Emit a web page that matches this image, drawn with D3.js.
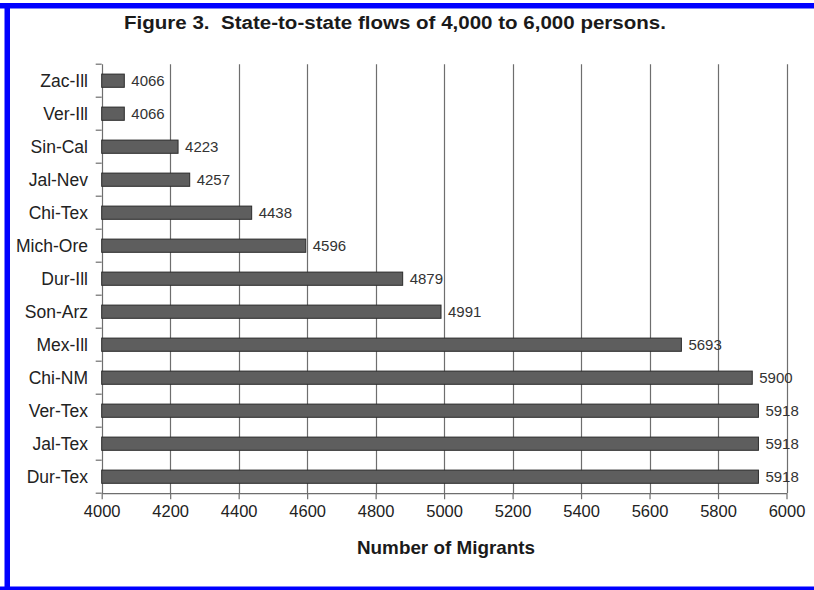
<!DOCTYPE html>
<html>
<head>
<meta charset="utf-8">
<script src="https://cdn.jsdelivr.net/npm/d3@7"></script>
<style>
  html, body { margin: 0; padding: 0; background: #fff; }
  svg { display: block; font-family: "Liberation Sans", Arial, sans-serif; }
</style>
</head>
<body>
<svg id="chart" width="814" height="590"></svg>
<script>
// State-to-state migration flows (persons)
const categories = ["Zac-Ill", "Ver-Ill", "Sin-Cal", "Jal-Nev", "Chi-Tex", "Mich-Ore",
                    "Dur-Ill", "Son-Arz", "Mex-Ill", "Chi-NM", "Ver-Tex", "Jal-Tex", "Dur-Tex"];
const migrants = [4066, 4066, 4223, 4257, 4438, 4596, 4879, 4991, 5693, 5900, 5918, 5918, 5918];
const xTicks = [4000, 4200, 4400, 4600, 4800, 5000, 5200, 5400, 5600, 5800, 6000];
const titleText = "Figure 3.  State-to-state flows of 4,000 to 6,000 persons.";
const xTitle = "Number of Migrants";

const svg = d3.select("#chart");
const W = 814, H = 590;
const plot = { left: 101.7, right: 786.5, top: 64.2, bottom: 493.2 };

const x = d3.scaleLinear().domain([4000, 6000]).range([plot.left, plot.right]);
const y = d3.scaleBand().domain(categories).range([plot.top, plot.bottom]).paddingInner(0.6).paddingOuter(0.3);
const band = d3.scaleBand().domain(categories).range([plot.top, plot.bottom]);

// white page with blue frame on top, left and bottom
svg.append("rect").attr("width", W).attr("height", H).attr("fill", "#fff");
svg.append("rect").attr("x", 0).attr("y", 3).attr("width", W).attr("height", 5.5).attr("fill", "#0000ff");
svg.append("rect").attr("x", 4.5).attr("y", 3).attr("width", 5.5).attr("height", H).attr("fill", "#0000ff");
svg.append("rect").attr("x", 0).attr("y", 586.5).attr("width", W).attr("height", 4).attr("fill", "#0000ff");

// title (slightly wide lettering)
svg.append("text")
  .attr("x", 124).attr("y", 29.3)
  .attr("font-size", 17.5).attr("font-weight", "bold").attr("fill", "#1a1a1a")
  .attr("textLength", 542).attr("lengthAdjust", "spacingAndGlyphs")
  .style("white-space", "pre")
  .text(titleText);

// vertical gridlines
svg.append("g")
  .selectAll("line")
  .data(xTicks.slice(1))
  .join("line")
  .attr("x1", d => Math.round(x(d)) + 0.5).attr("x2", d => Math.round(x(d)) + 0.5)
  .attr("y1", plot.top).attr("y2", plot.bottom)
  .attr("stroke", "#6e6e6e").attr("stroke-width", 1.2);

// bottom axis with downward ticks
const xAxis = svg.append("g")
  .attr("transform", `translate(0,${plot.bottom})`)
  .call(d3.axisBottom(x).tickValues(xTicks).tickSize(6).tickSizeOuter(0).tickPadding(6).tickFormat(d3.format("d")));
xAxis.select(".domain").attr("stroke", "#6e6e6e").attr("stroke-width", 1.2);
xAxis.selectAll(".tick line").attr("stroke", "#6e6e6e").attr("stroke-width", 1.2);
xAxis.selectAll(".tick text")
  .attr("font-size", 16.5).attr("fill", "#222").attr("font-family", "Liberation Sans, Arial, sans-serif")
  .attr("dy", "0.72em");

// left axis: line plus ticks at band boundaries
const left = svg.append("g");
left.append("line")
  .attr("x1", Math.round(plot.left) + 0.5).attr("x2", Math.round(plot.left) + 0.5)
  .attr("y1", plot.top).attr("y2", plot.bottom)
  .attr("stroke", "#6e6e6e").attr("stroke-width", 1.2);
left.selectAll(".yt")
  .data(categories.map(c => band(c)).concat([plot.bottom]))
  .join("line")
  .attr("class", "yt")
  .attr("x1", plot.left - 6).attr("x2", plot.left)
  .attr("y1", d => d).attr("y2", d => d)
  .attr("stroke", "#6e6e6e").attr("stroke-width", 1.2);

// category labels
svg.append("g")
  .selectAll("text")
  .data(categories)
  .join("text")
  .attr("x", 88)
  .attr("y", d => y(d) + y.bandwidth() / 2 + 6.5)
  .attr("text-anchor", "end")
  .attr("font-size", 17.5).attr("fill", "#222")
  .text(d => d);

// bars
svg.append("g")
  .selectAll("rect")
  .data(categories.map((c, i) => ({ c, v: migrants[i] })))
  .join("rect")
  .attr("x", x(4000))
  .attr("y", d => y(d.c))
  .attr("width", d => x(d.v) - x(4000))
  .attr("height", y.bandwidth())
  .attr("fill", "#5e5e5e")
  .attr("stroke", "#2b2b2b").attr("stroke-width", 1);

// value labels
svg.append("g")
  .selectAll("text")
  .data(categories.map((c, i) => ({ c, v: migrants[i] })))
  .join("text")
  .attr("x", d => x(d.v) + 7)
  .attr("y", d => y(d.c) + y.bandwidth() / 2 + 5.3)
  .attr("font-size", 15).attr("fill", "#333")
  .text(d => d.v);

// x axis title
svg.append("text")
  .attr("x", 357).attr("y", 554)
  .attr("font-size", 18.5).attr("font-weight", "bold").attr("fill", "#1a1a1a")
  .attr("textLength", 178).attr("lengthAdjust", "spacingAndGlyphs")
  .text(xTitle);
</script>
</body>
</html>
